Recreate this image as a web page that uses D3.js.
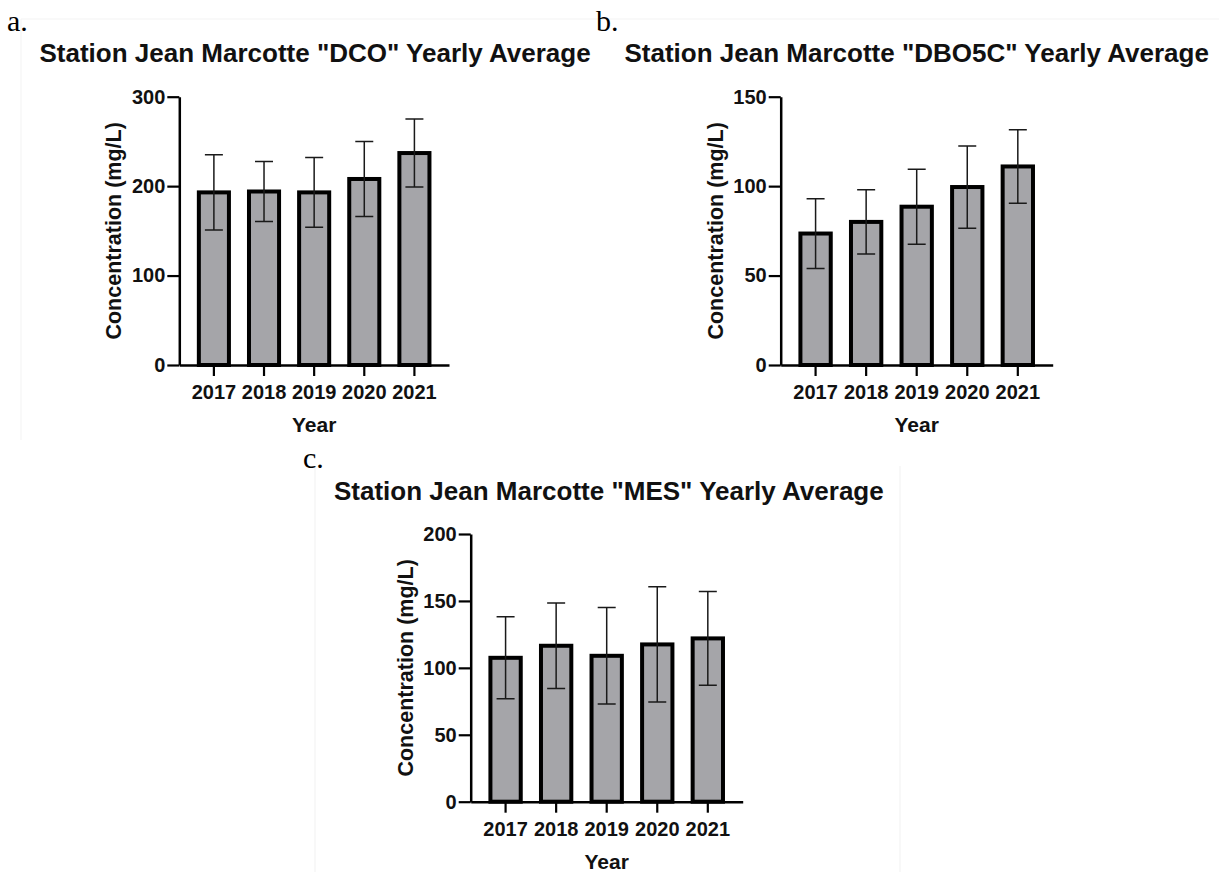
<!DOCTYPE html>
<html>
<head>
<meta charset="utf-8">
<script src="https://cdn.jsdelivr.net/npm/d3@7"></script>
<style>
  body { margin: 0; background: #fff; }
  svg { display: block; }
  .tick text { font-family: "Liberation Sans", Arial, sans-serif; font-weight: bold; font-size: 20px; fill: #111; }
</style>
</head>
<body>
<svg id="fig" width="1219" height="872"></svg>
<script>
// yearly averages
const years = ["2017", "2018", "2019", "2020", "2021"];

const dcoMean = [193, 194, 193, 208, 237];
const dcoSd = [42, 33.5, 39, 42, 38];
const dcoTicks = [0, 100, 200, 300];

const dboMean = [73.5, 80, 88.5, 99.5, 111];
const dboSd = [19.5, 18, 21, 23, 20.5];
const dboTicks = [0, 50, 100, 150];

const mesMean = [107.5, 116.5, 109, 117.5, 122];
const mesSd = [30.6, 32, 36, 43, 35];
const mesTicks = [0, 50, 100, 150, 200];

const svg = d3.select("#fig");
const sans = '"Liberation Sans", Arial, sans-serif';
const serif = '"Liberation Serif", "Times New Roman", serif';

// faint frames of the pasted panels
svg.append("path")
  .attr("d", "M21,19H1219 M21,19V440")
  .attr("stroke", "#f3f3f3").attr("fill", "none");
svg.append("path")
  .attr("d", "M315,466V872 M900,466V872")
  .attr("stroke", "#f1f1f1").attr("fill", "none");

function drawPanel(opt) {
  const { letter, letterX, letterY, title, titleX, titleY,
          x0, x1, yTop, yBottom, means, sds, ticks } = opt;

  svg.append("text")
    .attr("x", letterX).attr("y", letterY)
    .style("font-family", serif).style("font-size", "30px")
    .text(letter);

  svg.append("text")
    .attr("x", titleX).attr("y", titleY)
    .style("font-family", sans).style("font-weight", "bold")
    .style("font-size", "26px").style("fill", "#111")
    .text(title);

  const x = d3.scaleBand()
    .domain(years)
    .range([x0, x1])
    .paddingInner(0.4)
    .paddingOuter(0.39);

  const y = d3.scaleLinear()
    .domain([0, d3.max(ticks)])
    .range([yBottom, yTop]);

  const rows = years.map((yr, i) => ({ year: yr, mean: means[i], sd: sds[i] }));

  const g = svg.append("g");

  // bars
  g.selectAll("rect.bar")
    .data(rows)
    .enter()
    .append("rect")
      .attr("class", "bar")
      .attr("x", d => x(d.year))
      .attr("y", d => y(d.mean))
      .attr("width", x.bandwidth())
      .attr("height", d => y(0) - y(d.mean))
      .attr("fill", "#a5a5a9")
      .attr("stroke", "#000")
      .attr("stroke-width", 4);

  // error bars (mean +/- sd)
  const cap = 9;
  g.selectAll("path.err")
    .data(rows)
    .enter()
    .append("path")
      .attr("class", "err")
      .attr("d", d => {
        const cx = x(d.year) + x.bandwidth() / 2;
        const hi = y(d.mean + d.sd), lo = y(d.mean - d.sd);
        return "M" + (cx - cap) + "," + hi + "H" + (cx + cap) +
               "M" + cx + "," + hi + "V" + lo +
               "M" + (cx - cap) + "," + lo + "H" + (cx + cap);
      })
      .attr("stroke", "#1a1a1a")
      .attr("stroke-width", 1.5)
      .attr("fill", "none");

  // axes
  const yAxis = g.append("g")
    .attr("transform", "translate(" + x0 + ",0)")
    .call(d3.axisLeft(y).tickValues(ticks).tickSize(12).tickSizeOuter(0).tickPadding(2));

  const xAxis = g.append("g")
    .attr("transform", "translate(0," + yBottom + ")")
    .call(d3.axisBottom(x).tickSize(11).tickSizeOuter(0).tickPadding(9));

  [yAxis, xAxis].forEach(ax => {
    ax.select(".domain").attr("stroke", "#000").attr("stroke-width", 2.5);
    ax.selectAll(".tick line").attr("stroke", "#000").attr("stroke-width", 2.2);
  });

  // axis titles
  svg.append("text")
    .attr("x", (x0 + x1) / 2).attr("y", yBottom + 67)
    .attr("text-anchor", "middle")
    .style("font-family", sans).style("font-weight", "bold")
    .style("font-size", "21px").style("fill", "#111")
    .text("Year");

  svg.append("text")
    .attr("transform", "translate(" + (x0 - 58) + "," + ((yTop + yBottom) / 2) + ") rotate(-90)")
    .attr("text-anchor", "middle")
    .style("font-family", sans).style("font-weight", "bold")
    .style("font-size", "21.5px").style("fill", "#111")
    .text("Concentration (mg/L)");
}

drawPanel({
  letter: "a.", letterX: 7, letterY: 31,
  title: 'Station Jean Marcotte "DCO" Yearly Average', titleX: 39.5, titleY: 62,
  x0: 179.3, x1: 449, yTop: 96.7, yBottom: 365,
  means: dcoMean, sds: dcoSd, ticks: dcoTicks
});

drawPanel({
  letter: "b.", letterX: 596, letterY: 31,
  title: 'Station Jean Marcotte "DBO5C" Yearly Average', titleX: 624.5, titleY: 62,
  x0: 780.7, x1: 1052.7, yTop: 96.7, yBottom: 365,
  means: dboMean, sds: dboSd, ticks: dboTicks
});

drawPanel({
  letter: "c.", letterX: 303, letterY: 468,
  title: 'Station Jean Marcotte "MES" Yearly Average', titleX: 334, titleY: 500,
  x0: 470.7, x1: 742.7, yTop: 534, yBottom: 801.7,
  means: mesMean, sds: mesSd, ticks: mesTicks
});
</script>
</body>
</html>
